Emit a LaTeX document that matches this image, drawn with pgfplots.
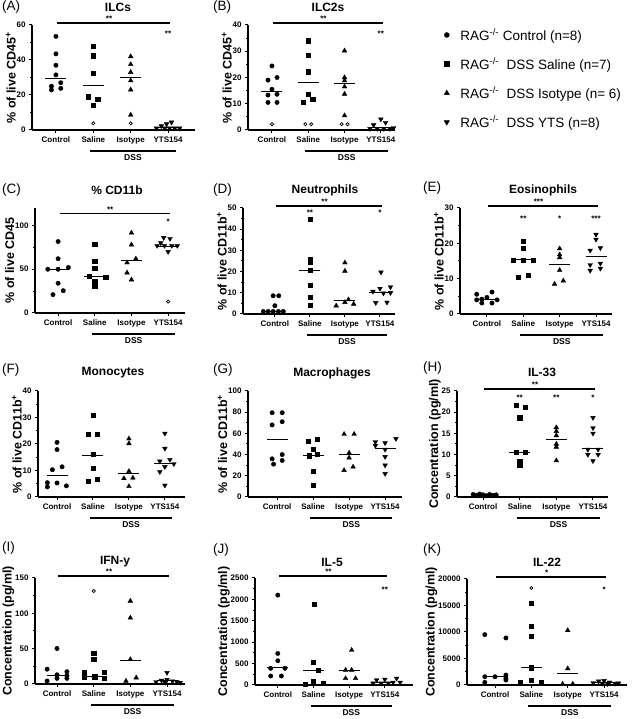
\documentclass[border=0pt]{standalone}
\usepackage{pgfplots}
\pgfplotsset{compat=1.18}
\usepackage{fontspec}
\setmainfont{Liberation Sans}

\newcommand{\fs}[1]{\fontsize{#1}{#1}\selectfont}

\pgfplotsset{
  gp/.style={
    scale only axis, anchor=south west, clip=false,
    axis x line*=bottom, axis y line*=left,
    axis line style={line width=1.1pt},
    xtick={0,1,2,3}, xticklabels={Control,Saline,Isotype,YTS154},
    tick align=outside, major tick length=3pt, minor tick length=1.8pt,
    tick style={black, line width=1pt},
    minor y tick num=1,
    ticklabel style={font=\bfseries\fs{8}},
    /pgf/number format/assume math mode=true,
    /pgf/number format/1000 sep={},
    scaled y ticks=false,
    ylabel style={font=\bfseries\fs{12.5}},
    ylabel shift=-6pt,
    ymin=0,
  },
  pC/.style={only marks, mark=*, mark size=2.2pt, black},
  pS/.style={only marks, mark=square*, mark size=2.1pt, black},
  pI/.style={only marks, mark=triangle*, mark size=2.7pt, black},
  pY/.style={only marks, mark=triangle*, mark size=2.7pt, black, mark options={rotate=180}},
  pO/.style={only marks, mark=o, mark size=1.6pt, black, mark options={line width=0.7pt}},
  pM/.style={only marks, mark=-, mark size=10.5pt, black, mark options={line width=1pt}},
}

% DSS bracket under Saline..YTS154
\newcommand{\dss}{%
  \draw[line width=1.3pt] ([yshift=-21pt]axis cs:0.92,0) -- ([yshift=-21pt]axis cs:3.2,0);
  \node[font=\bfseries\fs{8.5}] at ([yshift=-28pt]axis cs:2.06,0) {DSS};}
% overall significance line
\newcommand{\sig}[2]{%
  \draw[line width=1.3pt] ([yshift=2pt]axis cs:0.04,#1) -- ([yshift=2pt]axis cs:3.06,#1);
  \node[font=\bfseries\fs{8}] at ([yshift=6pt]axis cs:1.42,#1) {#2};}
\newcommand{\st}[3]{\node[font=\bfseries\fs{8}] at (axis cs:#1,#2) {#3};}

\begin{document}
\begin{tikzpicture}
\useasboundingbox (0,0) rectangle (633pt,719pt);

% titles and panel letters
\begin{scope}[every node/.style={font=\bfseries\fs{12}}]
\node at (118pt,712pt) {ILCs};
\node at (328pt,712pt) {ILC2s};
\node at (117pt,529pt) {\% CD11b};
\node at (325pt,529pt) {Neutrophils};
\node at (543pt,529pt) {Eosinophils};
\node at (113pt,346pt) {Monocytes};
\node at (332pt,346pt) {Macrophages};
\node at (542pt,347pt) {IL-33};
\node at (115pt,157pt) {IFN-y};
\node at (332pt,157pt) {IL-5};
\node at (547pt,157pt) {IL-22};
\end{scope}
\begin{scope}[every node/.style={font=\fs{13.5}, anchor=west, inner sep=0pt}]
\node at (2pt,712pt) {(A)};
\node at (213pt,712pt) {(B)};
\node at (2pt,529pt) {(C)};
\node at (213pt,529pt) {(D)};
\node at (423pt,531pt) {(E)};
\node at (2pt,349pt) {(F)};
\node at (213pt,349pt) {(G)};
\node at (423pt,351pt) {(H)};
\node at (2pt,171pt) {(I)};
\node at (213pt,169pt) {(J)};
\node at (423pt,169pt) {(K)};
\end{scope}

% (A) ILCs
\begin{axis}[gp, at={(32pt,589pt)}, width=163pt, height=105pt,
  xmin=-0.64, xmax=3.72, ymax=60, ytick={0,20,40,60},
  ylabel={\% of live CD45\textsuperscript{+}}]
\addplot[pC] coordinates {(0,53.5) (0,43.5) (0,37) (0,31.5) (0.13,27) (-0.12,25) (-0.12,22.9) (0.13,23.8)};
\addplot[pS] coordinates {(1,48) (1,42.5) (1,32.5) (0.87,19) (1.12,17.7) (1,14.3)};
\addplot[pI] coordinates {(2,42) (2,37.5) (2,33) (2,28.2) (2,23) (2,8.6)};
\addplot[pY] coordinates {(2.69,1) (2.82,2.3) (2.91,1) (2.96,3.4) (3.04,1) (3.09,4.4) (3.18,1) (3.31,1)};
\addplot[pO] coordinates {(1,3.8) (2,3.8)};
\addplot[pM] coordinates {(0,29.3) (1,25.7) (2,30) (3,1.2)};
\sig{60}{**}
\st{3}{54.8}{**}
\dss
\end{axis}

% (B) ILC2s
\begin{axis}[gp, at={(248pt,589pt)}, width=147pt, height=105pt,
  xmin=-0.66, xmax=3.39, ymax=40, ytick={0,10,20,30,40},
  ylabel={\% of live CD45\textsuperscript{+}}]
\addplot[pC] coordinates {(0,24.4) (-0.11,19) (0.14,20) (0,15.5) (-0.11,13.3) (0.14,13.6) (-0.11,10.5) (0.14,10.5)};
\addplot[pS] coordinates {(1,34) (1,28.6) (1,22.2) (1,13.7) (0.87,10.5) (1.12,11.8)};
\addplot[pI] coordinates {(2,30.2) (2,20) (2,18.8) (2,16.5) (2,13.7) (2,5.5)};
\addplot[pY] coordinates {(2.8,1.9) (3,4.1) (3.13,2.8) (2.7,0.5) (2.9,0.5) (3.08,0.5) (3.25,0.5) (3.35,0.8)};
\addplot[pO] coordinates {(0,2.2) (0.92,2.2) (1.08,2.2) (1.92,2.2) (2.08,2.2)};
\addplot[pM] coordinates {(0,14.6) (1,18) (2,17.6) (3,1)};
\sig{40}{**}
\st{3}{36.6}{**}
\dss
\end{axis}

% legend
\begin{axis}[scale only axis, width=20pt, height=20pt, at={(444pt,693pt)}, anchor=north west,
  hide axis, xmin=0, xmax=1, ymin=0, ymax=1,
  legend style={draw=none, fill=none, at={(0,1)}, anchor=north west, font=\fs{13.5},
    row sep=11.5pt, inner sep=0pt, /tikz/every odd column/.append style={column sep=9pt}},
  legend cell align=left]
\addlegendimage{pC, mark size=2.5pt}
\addlegendentry{RAG\textsuperscript{-/-} Control (n=8)}
\addlegendimage{pS, mark size=2.4pt}
\addlegendentry{RAG\textsuperscript{-/-}\ \ DSS Saline (n=7)}
\addlegendimage{pI, mark size=3pt}
\addlegendentry{RAG\textsuperscript{-/-}\ \ DSS Isotype (n= 6)}
\addlegendimage{pY, mark size=3pt}
\addlegendentry{RAG\textsuperscript{-/-}\ \ DSS YTS (n=8)}
\end{axis}

% (C) % CD11b
\begin{axis}[gp, at={(35pt,406pt)}, width=150pt, height=105pt,
  xmin=-0.63, xmax=3.46, ymax=120, ytick={0,50,100}, minor ytick={25,75},
  ylabel={\% of live CD45}]
\addplot[pC] coordinates {(0,81.7) (0,62) (-0.28,50) (0,50) (0.28,52) (0,34) (-0.14,21) (0.14,25.5)};
\addplot[pS] coordinates {(1,79) (1,59.3) (1,51.3) (0.84,42) (1.3,41) (1,36) (1,30.4)};
\addplot[pI] coordinates {(2,91.6) (2,78) (2.12,62) (1.88,57.5) (1.88,46) (2,38)};
\addplot[pY] coordinates {(2.88,86) (3.05,85) (2.8,80) (2.7,77) (2.9,77) (3.1,77) (3.25,77) (3,70)};
\addplot[pO] coordinates {(3,13)};
\addplot[pM] coordinates {(0,50) (1,42.2) (2,59.7) (3,76.5)};
\sig{111.3}{**}
\st{3}{104}{*}
\dss
\end{axis}

% (D) Neutrophils
\begin{axis}[gp, at={(243pt,405pt)}, width=152pt, height=106pt,
  xmin=-0.91, xmax=3.43, ymax=50, ytick={0,10,20,30,40,50},
  ylabel={\% of live CD11b\textsuperscript{+}}]
\addplot[pC] coordinates {(-0.05,8.6) (0.11,8.6) (0,3.9) (-0.33,1.2) (-0.19,1.2) (-0.05,1.2) (0.1,1.2) (0.24,1.2)};
\addplot[pS] coordinates {(1,44.7) (1,26) (1,24.5) (1,20.5) (1,13.5) (1,8) (1,4)};
\addplot[pI] coordinates {(2,24.2) (2,20.3) (2.1,6.8) (2,5.5) (2.25,4.7) (1.75,3.9)};
\addplot[pY] coordinates {(3.03,19.7) (2.8,10.6) (3,12) (3.3,12.7) (3.3,10) (2.88,5.3) (3.2,5.5) (3.1,9.8)};
\addplot[pM] coordinates {(0,1.2) (1,20.5) (2,6.3) (3,10.3)};
\sig{50}{**}
\st{1}{47.8}{**}
\st{3}{47.8}{*}
\dss
\end{axis}

% (E) Eosinophils
\begin{axis}[gp, at={(460pt,405pt)}, width=152pt, height=106pt,
  xmin=-0.74, xmax=3.44, ymax=30, ytick={0,10,20,30},
  ylabel={\% of live CD11b\textsuperscript{+}}]
\addplot[pC] coordinates {(-0.28,5.6) (0.14,6.2) (0,4.7) (-0.14,3.1) (0.14,3.1) (-0.14,4.2) (0.28,4) (-0.28,4)};
\addplot[pS] coordinates {(1,20.6) (1,18.7) (0.72,15.3) (1,15.3) (1.28,15.3) (1.14,11) (0.86,10.3)};
\addplot[pI] coordinates {(2,18.5) (2,16.8) (2,16) (2,12.4) (2.1,9.4) (1.86,8.5)};
\addplot[pY] coordinates {(3,22.5) (3,21.1) (2.84,18) (3.12,18.7) (2.84,13.9) (3.12,14.3) (2.84,12.3) (3.12,12.9)};
\addplot[pM] coordinates {(0,4) (1,15.3) (2,14) (3,16.3)};
\sig{30}{***}
\st{1}{26.9}{**}
\st{2}{26.9}{*}
\st{3}{26.9}{***}
\dss
\end{axis}

% (F) Monocytes
\begin{axis}[gp, at={(38pt,222pt)}, width=147pt, height=106pt,
  xmin=-0.53, xmax=3.56, ymax=40, ytick={0,10,20,30,40},
  ylabel={\% of live CD11b\textsuperscript{+}}]
\addplot[pC] coordinates {(0,20.6) (0,17.9) (-0.13,10.3) (0.14,11.4) (-0.27,5.4) (0,5.3) (-0.27,3.8) (0.26,4.2)};
\addplot[pS] coordinates {(1,31) (0.86,23.6) (1.11,23.6) (1,16) (1,11) (0.86,5.9) (1.11,6.7)};
\addplot[pI] coordinates {(2,22) (2,20.2) (2,9.7) (1.86,7) (2.11,7.2) (2,4)};
\addplot[pY] coordinates {(3,24) (3,18.3) (2.86,13.5) (3.14,14.1) (2.86,9.5) (3,11.4) (3.25,12.5) (3,4.4)};
\addplot[pM] coordinates {(0,8) (1,15.8) (2,8.7) (3,12.7)};
\dss
\end{axis}

% (G) Macrophages
\begin{axis}[gp, at={(248pt,222pt)}, width=154pt, height=106pt,
  xmin=-0.81, xmax=3.47, ymax=100, ytick={0,20,40,60,80,100},
  ylabel={\% of live CD11b\textsuperscript{+}}]
\addplot[pC] coordinates {(-0.14,79.5) (0.14,79.5) (-0.14,68) (0.14,71) (-0.14,36) (0.14,40) (-0.1,31) (0.14,34.5)};
\addplot[pS] coordinates {(0.86,52.7) (1.12,54.5) (1,45) (1.12,40) (0.9,39) (1,24) (1,11)};
\addplot[pI] coordinates {(1.86,59.3) (2.14,59.3) (2,41.6) (2,37) (1.86,25.2) (2.11,28.4)};
\addplot[pY] coordinates {(2.73,52) (3,51) (3.3,55) (2.73,48.5) (3,44.8) (3,38) (3,30) (3,22)};
\addplot[pM] coordinates {(0,54) (1,39.4) (2,39.7) (3,45.5)};
\dss
\end{axis}

% (H) IL-33
\begin{axis}[gp, at={(457pt,222pt)}, width=151pt, height=106pt,
  xmin=-0.71, xmax=3.41, ymax=25, ytick={0,5,10,15,20,25},
  ylabel={Concentration (pg/ml)}]
\addplot[pC] coordinates {(-0.27,0.6) (-0.18,0.4) (-0.09,0.7) (0,0.5) (0.09,0.3) (0.18,0.6) (0.27,0.4) (0.36,0.5)};
\addplot[pS] coordinates {(0.9,21.7) (1.14,21.2) (1,18.7) (0.9,10.5) (1.14,10.5) (1,8.4) (1,7.5)};
\addplot[pI] coordinates {(2,16.4) (2,15.5) (2,14.5) (2,12.5) (2,11.8) (2,8.6)};
\addplot[pY] coordinates {(3,18.7) (3,16.3) (3,15) (2.86,11.2) (3.14,11.2) (2.86,10) (3.14,10) (3,8.5)};
\addplot[pM] coordinates {(0,0.5) (1,10.4) (2,13.5) (3,11.4)};
\sig{25}{**}
\st{1}{23.4}{**}
\st{2}{23.4}{**}
\st{3}{23.4}{*}
\dss
\end{axis}

% (I) IFN-y
\begin{axis}[gp, at={(35pt,35pt)}, width=150pt, height=106pt,
  xmin=-0.6, xmax=3.49, ymax=150, ytick={0,50,100,150},
  ylabel={Concentration (pg/ml)}]
\addplot[pC] coordinates {(0,50.3) (-0.27,21) (0.27,17.4) (0,13) (-0.27,4.2) (0,8) (0.27,8) (0.27,12)};
\addplot[pS] coordinates {(1,44) (1,35.3) (0.75,16) (1.29,16.5) (0.75,9.4) (1.03,10.3) (1.29,8)};
\addplot[pI] coordinates {(2,117.5) (2,93.6) (2,34.8) (2.16,8.9) (1.88,4.2)};
\addplot[pY] coordinates {(3,16) (2.7,3) (2.85,5) (3,6) (3.15,4) (3.27,3) (3.36,2) (2.95,2)};
\addplot[pO] coordinates {(1,131.6)};
\addplot[pM] coordinates {(0,12.7) (1,11) (2,33.6) (3,4.5)};
\sig{150}{**}
\dss
\end{axis}

% (J) IL-5
\begin{axis}[gp, at={(255pt,34pt)}, width=158pt, height=107pt,
  xmin=-0.64, xmax=3.79, ymax=2500, ytick={0,500,1000,1500,2000,2500},
  ylabel={Concentration (pg/ml)}]
\addplot[pC] coordinates {(0,2100) (0,737) (0,567) (-0.2,390) (0.2,390) (-0.2,210) (0.1,210)};
\addplot[pS] coordinates {(1.03,1890) (1,530) (1.14,350) (1,85) (1.28,50) (0.77,20)};
\addplot[pI] coordinates {(2.07,815) (1.9,350) (2.07,350) (1.9,155) (2.18,155)};
\addplot[pY] coordinates {(2.77,115) (3,130) (3.33,155) (2.67,40) (2.9,40) (3.1,40) (3.23,60) (3.43,60)};
\addplot[pM] coordinates {(0,420) (1,350) (2,330) (3,50)};
\sig{2500}{**}
\st{3}{2228}{**}
\dss
\end{axis}

% (K) IL-22
\begin{axis}[gp, at={(467pt,34pt)}, width=160pt, height=106pt,
  xmin=-0.77, xmax=3.63, ymax=20000, ytick={0,5000,10000,15000,20000},
  ylabel={Concentration (pg/ml)}]
\addplot[pC] coordinates {(-0.28,9500) (0.3,8875) (-0.28,1560) (0,1560) (0.3,1875) (0.3,940) (-0.28,500) (0.3,1300)};
\addplot[pS] coordinates {(1,15440) (1,11060) (1,9190) (1,3250) (1,940) (0.7,440) (1.27,500)};
\addplot[pI] coordinates {(2,10300) (2,3100) (1.86,200) (2.14,200)};
\addplot[pY] coordinates {(2.7,400) (2.85,700) (3,800) (3.15,500) (3.3,300) (2.95,300) (3.1,200) (3.4,350)};
\addplot[pO] coordinates {(1,18300)};
\addplot[pM] coordinates {(0,1600) (1,3250) (2,2100) (3,400)};
\sig{20000}{*}
\st{3}{18000}{*}
\dss
\end{axis}
\end{tikzpicture}
\end{document}
